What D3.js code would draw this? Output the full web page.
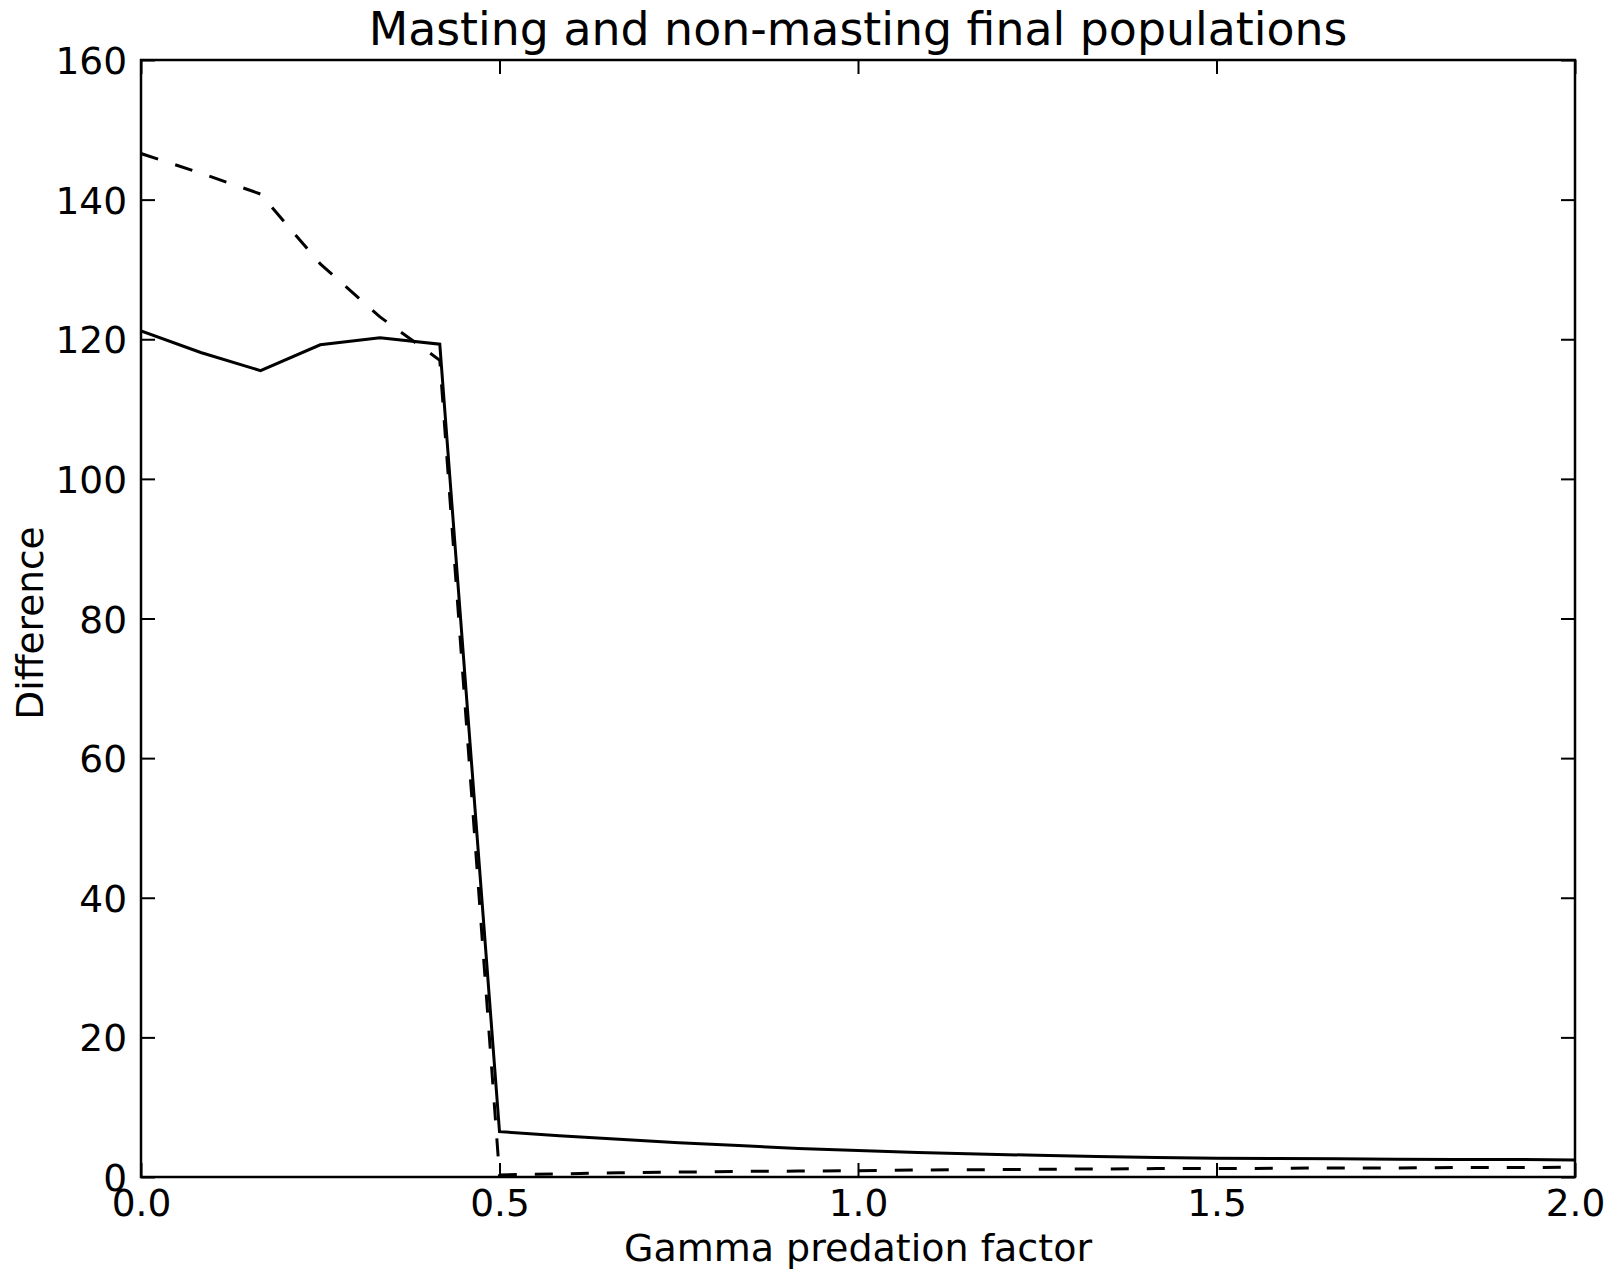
<!DOCTYPE html>
<html>
<head>
<meta charset="utf-8">
<script src="https://cdn.jsdelivr.net/npm/d3@7"></script>
<style>
  html, body { margin: 0; padding: 0; background: #fff; }
  svg { display: block; }
  text { font-family: "DejaVu Sans", sans-serif; fill: #000; }
</style>
</head>
<body>
<script>
// Data
const gamma = [0.0, 0.0833, 0.1667, 0.25, 0.3333, 0.4167, 0.5, 0.5833, 0.6667, 0.75, 0.8333, 0.9167,
  1.0, 1.0833, 1.1667, 1.25, 1.3333, 1.4167, 1.5, 1.5833, 1.6667, 1.75, 1.8333, 1.9167, 2.0];
const solidSeries = [121.2, 118.1, 115.5, 119.2, 120.2, 119.3, 6.5, 5.9, 5.4, 4.9, 4.5, 4.1,
  3.8, 3.5, 3.3, 3.1, 2.95, 2.8, 2.7, 2.65, 2.6, 2.55, 2.5, 2.5, 2.45];
const dashedSeries = [146.6, 143.8, 140.8, 130.8, 123.2, 117.0, 0.3, 0.45, 0.6, 0.7, 0.8, 0.85,
  0.9, 1.0, 1.05, 1.1, 1.15, 1.2, 1.2, 1.25, 1.3, 1.3, 1.35, 1.35, 1.4];
const xTicks = [0.0, 0.5, 1.0, 1.5, 2.0];
const yTicks = [0, 20, 40, 60, 80, 100, 120, 140, 160];
const titleText = "Masting and non-masting final populations";
const xLabelText = "Gamma predation factor";
const yLabelText = "Difference";

const W = 1618, H = 1269;
const m = { left: 141, right: 1575, top: 60, bottom: 1177 };

const svg = d3.select("body").append("svg").attr("width", W).attr("height", H);

const x = d3.scaleLinear().domain([0, 2]).range([m.left, m.right]);
const y = d3.scaleLinear().domain([0, 160]).range([m.bottom, m.top]);

const fs = 37.5;
const tickLen = 14;

// data lines
const line = d3.line().x((d, i) => x(gamma[i])).y(d => y(d));
const clipId = "plotclip";
svg.append("clipPath").attr("id", clipId).append("rect")
  .attr("x", m.left).attr("y", m.top).attr("width", m.right - m.left).attr("height", m.bottom - m.top);

svg.append("path").datum(solidSeries).attr("d", line)
  .attr("fill", "none").attr("stroke", "#000").attr("stroke-width", 3)
  .attr("stroke-linejoin", "miter").attr("clip-path", `url(#${clipId})`);
svg.append("path").datum(dashedSeries).attr("d", line)
  .attr("fill", "none").attr("stroke", "#000").attr("stroke-width", 3)
  .attr("stroke-dasharray", "18,18").attr("clip-path", `url(#${clipId})`);

// axes with inside ticks on all four sides
const axB = d3.axisBottom(x).tickValues(xTicks).tickSize(-tickLen).tickFormat(d3.format(".1f")).tickPadding(14);
const axT = d3.axisTop(x).tickValues(xTicks).tickSize(-tickLen).tickFormat("");
const axL = d3.axisLeft(y).tickValues(yTicks).tickSize(-tickLen).tickFormat(d3.format("d")).tickPadding(14);
const axR = d3.axisRight(y).tickValues(yTicks).tickSize(-tickLen).tickFormat("");

function style(g) {
  g.select(".domain").remove();
  g.selectAll(".tick line").attr("stroke", "#000").attr("stroke-width", 2);
  g.selectAll(".tick text").attr("font-size", fs).attr("font-family", "DejaVu Sans").attr("fill", "#000");
}
svg.append("g").attr("transform", `translate(0,${m.bottom})`).call(axB).call(style)
  .selectAll(".tick text").attr("dy", null).attr("y", null)
  .attr("transform", null).attr("dominant-baseline", "auto").attr("y", 39);
svg.append("g").attr("transform", `translate(0,${m.top})`).call(axT).call(style);
svg.append("g").attr("transform", `translate(${m.left},0)`).call(axL).call(style)
  .selectAll(".tick text").attr("dy", "0.36em").attr("x", -14);
svg.append("g").attr("transform", `translate(${m.right},0)`).call(axR).call(style);

// frame
svg.append("rect").attr("x", m.left).attr("y", m.top)
  .attr("width", m.right - m.left).attr("height", m.bottom - m.top)
  .attr("fill", "none").attr("stroke", "#000").attr("stroke-width", 2.5);

// title and labels
svg.append("text").attr("x", (m.left + m.right) / 2).attr("y", 45)
  .attr("text-anchor", "middle").attr("font-size", 45.8).text(titleText);
svg.append("text").attr("x", (m.left + m.right) / 2).attr("y", 1261)
  .attr("text-anchor", "middle").attr("font-size", 38).text(xLabelText);
svg.append("text").attr("transform", `translate(43,623) rotate(-90)`)
  .attr("text-anchor", "middle").attr("font-size", fs).text(yLabelText);
</script>
</body>
</html>
